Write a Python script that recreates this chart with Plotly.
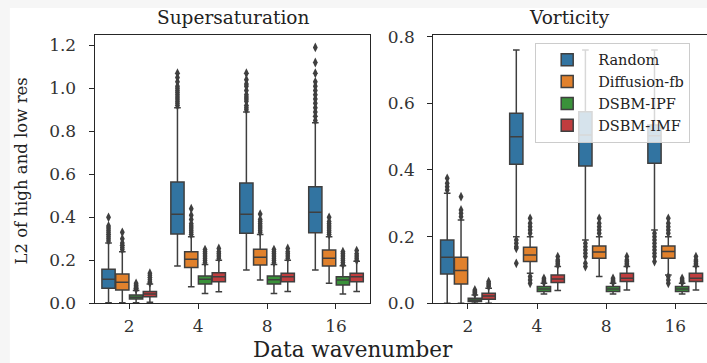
import plotly.graph_objects as go

categories = ["2", "4", "8", "16"]
methods = ["Random", "Diffusion-fb", "DSBM-IPF", "DSBM-IMF"]
colors = ["#3274a1", "#e1812c", "#3a923a", "#c03d3e"]

# ---- Supersaturation (left panel) ----
ss_random_q1 = [0.070, 0.322, 0.326, 0.328]
ss_random_med = [0.112, 0.414, 0.414, 0.423]
ss_random_q3 = [0.158, 0.564, 0.560, 0.542]
ss_random_lo = [0.002, 0.174, 0.155, 0.155]
ss_random_hi = [0.28, 0.91, 0.89, 0.84]
ss_random_out = [[0.29, 0.30, 0.31, 0.32, 0.33, 0.34, 0.35, 0.36, 0.40],
                 [0.92, 0.93, 0.94, 0.95, 0.96, 0.97, 0.98, 0.99, 1.00, 1.01, 1.03, 1.05, 1.07],
                 [0.90, 0.91, 0.92, 0.94, 0.95, 0.96, 0.97, 0.99, 1.01, 1.02, 1.04, 1.07],
                 [0.85, 0.87, 0.89, 0.91, 0.93, 0.95, 0.97, 0.99, 1.01, 1.03, 1.07, 1.12, 1.19]]

ss_diff_q1 = [0.062, 0.167, 0.178, 0.173]
ss_diff_med = [0.098, 0.205, 0.214, 0.209]
ss_diff_q3 = [0.136, 0.240, 0.251, 0.248]
ss_diff_lo = [0.002, 0.077, 0.108, 0.093]
ss_diff_hi = [0.24, 0.31, 0.32, 0.31]
ss_diff_out = [[0.25, 0.26, 0.27, 0.28, 0.30, 0.33],
               [0.32, 0.33, 0.34, 0.35, 0.36, 0.37, 0.39, 0.41, 0.44],
               [0.33, 0.34, 0.35, 0.36, 0.37, 0.38, 0.39, 0.415],
               [0.32, 0.33, 0.34, 0.35, 0.36, 0.37, 0.38, 0.40]]

ss_ipf_q1 = [0.020, 0.090, 0.090, 0.085]
ss_ipf_med = [0.028, 0.112, 0.110, 0.108]
ss_ipf_q3 = [0.039, 0.127, 0.127, 0.124]
ss_ipf_lo = [0.002, 0.046, 0.046, 0.043]
ss_ipf_hi = [0.060, 0.180, 0.180, 0.175]
ss_ipf_out = [[0.065, 0.07, 0.075, 0.08, 0.085, 0.093],
              [0.19, 0.20, 0.21, 0.22, 0.23, 0.24, 0.25],
              [0.19, 0.20, 0.21, 0.22, 0.23, 0.24, 0.25],
              [0.18, 0.19, 0.20, 0.21, 0.22, 0.23, 0.24]]

ss_imf_q1 = [0.030, 0.100, 0.100, 0.100]
ss_imf_med = [0.043, 0.124, 0.123, 0.123]
ss_imf_q3 = [0.055, 0.142, 0.140, 0.140]
ss_imf_lo = [0.005, 0.054, 0.055, 0.055]
ss_imf_hi = [0.090, 0.200, 0.200, 0.195]
ss_imf_out = [[0.095, 0.10, 0.11, 0.12, 0.13, 0.14],
              [0.21, 0.22, 0.23, 0.24, 0.255],
              [0.21, 0.22, 0.23, 0.24, 0.255],
              [0.20, 0.21, 0.22, 0.23, 0.245]]

# ---- Vorticity (right panel) ----
vo_random_q1 = [0.088, 0.417, 0.412, 0.420]
vo_random_med = [0.138, 0.500, 0.505, 0.503]
vo_random_q3 = [0.190, 0.570, 0.575, 0.535]
vo_random_lo = [0.0, 0.20, 0.19, 0.22]
vo_random_hi = [0.33, 0.76, 0.76, 0.76]
vo_random_out = [[0.34, 0.35, 0.36, 0.375],
                 [0.12, 0.165, 0.17, 0.18, 0.19],
                 [0.11, 0.12, 0.14, 0.15, 0.16, 0.17, 0.18],
                 [0.125, 0.14, 0.15, 0.16, 0.17, 0.18, 0.19, 0.20, 0.21]]

vo_diff_q1 = [0.058, 0.125, 0.135, 0.135]
vo_diff_med = [0.098, 0.145, 0.154, 0.155]
vo_diff_q3 = [0.138, 0.168, 0.172, 0.172]
vo_diff_lo = [0.0, 0.09, 0.08, 0.085]
vo_diff_hi = [0.25, 0.20, 0.20, 0.20]
vo_diff_out = [[0.26, 0.27, 0.28, 0.32],
               [0.06, 0.07, 0.08, 0.21, 0.22, 0.23, 0.24, 0.255],
               [0.21, 0.22, 0.23, 0.24, 0.255],
               [0.06, 0.07, 0.08, 0.21, 0.22, 0.23, 0.24, 0.255]]

vo_ipf_q1 = [0.005, 0.035, 0.035, 0.035]
vo_ipf_med = [0.010, 0.043, 0.043, 0.043]
vo_ipf_q3 = [0.015, 0.050, 0.050, 0.050]
vo_ipf_lo = [0.0, 0.028, 0.028, 0.028]
vo_ipf_hi = [0.025, 0.060, 0.060, 0.060]
vo_ipf_out = [[0.028, 0.032, 0.036, 0.04],
              [0.063, 0.066, 0.07, 0.075],
              [0.063, 0.066, 0.07, 0.075],
              [0.063, 0.066, 0.07, 0.075]]

vo_imf_q1 = [0.012, 0.062, 0.065, 0.065]
vo_imf_med = [0.022, 0.073, 0.075, 0.075]
vo_imf_q3 = [0.030, 0.085, 0.090, 0.090]
vo_imf_lo = [0.0, 0.038, 0.040, 0.040]
vo_imf_hi = [0.045, 0.110, 0.110, 0.110]
vo_imf_out = [[0.05, 0.055, 0.06, 0.065],
              [0.115, 0.12, 0.125, 0.13, 0.14],
              [0.115, 0.12, 0.125, 0.13, 0.14],
              [0.115, 0.12, 0.125, 0.13, 0.14]]

panels = [
    ("x", "y", [
        (ss_random_q1, ss_random_med, ss_random_q3, ss_random_lo, ss_random_hi, ss_random_out),
        (ss_diff_q1, ss_diff_med, ss_diff_q3, ss_diff_lo, ss_diff_hi, ss_diff_out),
        (ss_ipf_q1, ss_ipf_med, ss_ipf_q3, ss_ipf_lo, ss_ipf_hi, ss_ipf_out),
        (ss_imf_q1, ss_imf_med, ss_imf_q3, ss_imf_lo, ss_imf_hi, ss_imf_out),
    ]),
    ("x2", "y2", [
        (vo_random_q1, vo_random_med, vo_random_q3, vo_random_lo, vo_random_hi, vo_random_out),
        (vo_diff_q1, vo_diff_med, vo_diff_q3, vo_diff_lo, vo_diff_hi, vo_diff_out),
        (vo_ipf_q1, vo_ipf_med, vo_ipf_q3, vo_ipf_lo, vo_ipf_hi, vo_ipf_out),
        (vo_imf_q1, vo_imf_med, vo_imf_q3, vo_imf_lo, vo_imf_hi, vo_imf_out),
    ]),
]

EDGE = "#3f3f3f"
BOXW = 0.2
fig = go.Figure()
for p, (xa, ya, series) in enumerate(panels):
    for j, (q1, med, q3, lo, hi, out) in enumerate(series):
        off = (j - 1.5) * BOXW
        xs = [i + off for i in range(len(categories))]
        fig.add_trace(go.Box(
            x=xs, q1=q1, median=med, q3=q3, lowerfence=lo, upperfence=hi,
            width=BOXW * 0.96, whiskerwidth=0.5, fillcolor=colors[j],
            line=dict(color=EDGE, width=1.5), name=methods[j],
            legendgroup=methods[j], showlegend=(p == 1),
            boxpoints=False, xaxis=xa, yaxis=ya, hoverinfo="skip"))
        ox, oy = [], []
        for i, vals in enumerate(out):
            ox += [i + off] * len(vals)
            oy += vals
        fig.add_trace(go.Scatter(
            x=ox, y=oy, mode="markers", showlegend=False,
            marker=dict(symbol="diamond-tall", size=7, color=EDGE),
            xaxis=xa, yaxis=ya, hoverinfo="skip"))

FONT = "DejaVu Serif"
axis_common = dict(showline=True, linecolor="#262626", linewidth=1.3,
                   ticks="outside", ticklen=5, tickcolor="#262626", tickwidth=1.2,
                   showgrid=False, zeroline=False, automargin=False,
                   tickfont=dict(family=FONT, size=17, color="#333333"))
xstyle = dict(ticklabelstandoff=2, **axis_common)
ystyle = dict(ticklabelstandoff=9, **axis_common)

fig.update_layout(
    template="none",
    width=707, height=363,
    margin=dict(l=0, r=0, t=0, b=0),
    paper_bgcolor="#f6f6f6", plot_bgcolor="white",
    showlegend=True,
    font=dict(family=FONT, color="#262626"),
    xaxis=dict(domain=[0.134, 0.524], range=[-0.5, 3.5], mirror=True,
               tickvals=[0, 1, 2, 3], ticktext=categories, **xstyle),
    yaxis=dict(domain=[0.1645, 0.9036], range=[0, 1.248], mirror=True,
               tickvals=[0, 0.2, 0.4, 0.6, 0.8, 1.0, 1.2], tickformat=".1f", **ystyle),
    xaxis2=dict(domain=[0.613, 1.0], range=[-0.5, 3.46], mirror=True, anchor="y2",
                tickvals=[0, 1, 2, 3], ticktext=categories, **xstyle),
    yaxis2=dict(domain=[0.1645, 0.9036], range=[0, 0.805], anchor="x2",
                tickvals=[0, 0.2, 0.4, 0.6, 0.8], tickformat=".1f", **ystyle),
    legend=dict(x=0.757, y=0.882, xanchor="left", yanchor="top",
                bgcolor="rgba(255,255,255,0.8)", bordercolor="#cccccc", borderwidth=1,
                font=dict(family=FONT, size=14.5, color="#222"),
                tracegroupgap=0, itemwidth=52),
    shapes=[dict(type="rect", xref="paper", yref="paper", x0=0.014, x1=1, y0=0, y1=0.978,
                 fillcolor="white", line=dict(width=0), layer="below")],
    annotations=[
        dict(text="Supersaturation", x=0.329, y=0.952, xref="paper", yref="paper",
             showarrow=False, font=dict(family=FONT, size=18.5, color="#222"),
             xanchor="center", yanchor="middle"),
        dict(text="Vorticity", x=0.806, y=0.952, xref="paper", yref="paper",
             showarrow=False, font=dict(family=FONT, size=18.5, color="#222"),
             xanchor="center", yanchor="middle"),
        dict(text="Data wavenumber", x=0.4995, y=0.038, xref="paper", yref="paper",
             showarrow=False, font=dict(family=FONT, size=21.5, color="#222"),
             xanchor="center", yanchor="middle"),
        dict(text="L2 of high and low res", x=0.031, y=0.53, xref="paper", yref="paper",
             showarrow=False, textangle=-90, font=dict(family=FONT, size=16.5, color="#222"),
             xanchor="center", yanchor="middle"),
    ],
)

fig.write_html("out.html", config={"displayModeBar": False},
               post_script="document.body.style.margin='0';")
